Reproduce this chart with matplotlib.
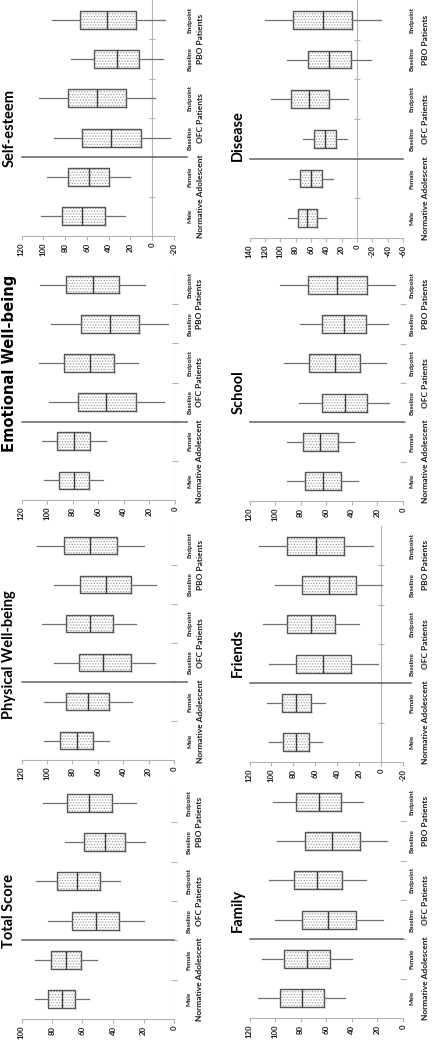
import numpy as np
import matplotlib
matplotlib.use("Agg")
import matplotlib.pyplot as plt

plt.rcParams['font.family'] = ['Lato', 'DejaVu Sans']
plt.rcParams['font.weight'] = 'bold'
plt.rcParams['axes.unicode_minus'] = False
plt.rcParams['hatch.linewidth'] = 0.6

# category labels (bottom to top after rotation)
sub_labels = ["Male", "Female", "Baseline", "Endpoint", "Baseline", "Endpoint"]
group_labels = ["Normative Adolescent", "OFC Patients", "PBO Patients"]

# each row: whisker low, q1, median, q3, whisker high
total_score = [[55.8, 64.6, 73.2, 82.4, 91.2],
               [50.5, 60.9, 71.0, 80.9, 91.0],
               [20.0, 35.8, 51.2, 67.0, 82.4],
               [35.2, 48.8, 63.3, 76.7, 90.8],
               [18.9, 31.9, 45.5, 58.9, 71.4],
               [25.1, 40.4, 55.6, 70.3, 85.7]]
physical = [[51.0, 63.9, 76.4, 89.8, 102.6],
            [33.2, 50.8, 67.5, 85.1, 102.6],
            [14.9, 34.0, 56.0, 74.6, 94.8],
            [29.8, 47.9, 66.2, 85.1, 103.7],
            [14.4, 33.8, 53.4, 74.3, 94.8],
            [23.6, 44.8, 66.0, 86.9, 107.9]]
emotional = [[56.2, 67.4, 79.3, 90.4, 102.3],
             [53.6, 66.6, 79.3, 92.0, 104.1],
             [8.5, 30.8, 54.1, 75.9, 98.2],
             [29.0, 47.7, 66.3, 86.8, 106.2],
             [5.2, 28.2, 50.8, 73.6, 96.6],
             [23.1, 43.5, 64.2, 85.0, 105.4]]
self_esteem = [[24.6, 43.7, 64.3, 82.8, 102.2],
               [20.0, 39.4, 58.2, 77.5, 96.6],
               [-16.3, 10.5, 38.2, 64.0, 90.2],
               [-2.2, 24.0, 50.5, 76.9, 103.7],
               [-9.8, 11.7, 32.6, 53.5, 74.2],
               [-11.7, 14.5, 41.5, 66.5, 92.3]]
family = [[45.5, 62.0, 79.3, 96.3, 113.1],
          [40.1, 57.1, 74.9, 92.9, 110.2],
          [16.0, 36.6, 58.6, 79.1, 100.0],
          [29.1, 47.9, 67.0, 85.6, 104.7],
          [12.6, 33.8, 55.5, 76.4, 98.4],
          [30.9, 48.4, 66.0, 83.8, 101.3]]
friends = [[54.1, 66.1, 78.0, 89.6, 101.8],
           [51.4, 64.2, 77.7, 90.8, 104.3],
           [2.4, 27.2, 52.9, 77.4, 101.8],
           [19.9, 41.6, 63.9, 86.2, 107.6],
           [-1.2, 22.9, 47.1, 72.2, 96.6],
           [7.0, 33.6, 59.6, 85.6, 111.6]]
school = [[35.2, 48.8, 62.7, 76.8, 90.9],
          [38.4, 51.2, 64.5, 77.8, 90.9],
          [11.0, 28.2, 45.7, 63.7, 81.5],
          [13.6, 33.4, 53.3, 73.1, 93.0],
          [11.5, 28.7, 46.0, 63.4, 80.9],
          [6.5, 28.5, 51.4, 74.2, 95.8]]
disease = [[40.0, 52.2, 64.8, 77.4, 90.0],
           [31.7, 45.2, 60.0, 74.8, 88.7],
           [13.5, 27.4, 41.7, 56.1, 70.9],
           [12.2, 37.0, 62.2, 86.5, 112.2],
           [-18.3, 8.3, 36.5, 64.3, 90.9],
           [-31.3, 6.5, 44.8, 83.0, 120.4]]

W, H = 433, 1040
AXIS = '#b3b3b3'

fig = plt.figure(figsize=(W / 100, H / 100), dpi=100)

# title, data, value range, left/right/top/bottom (px), title centre (px), title font,
# separator end (px), sub label x, group label x
lato = ('Lato', 10.5)
panels = [
    ("Self-esteem", self_esteem, (-20, 120), (21.5, 174, 0, 236), (9.5, 128), lato, 187, 190, 200),
    ("Emotional Well-being", emotional, (0, 120), (21.5, 175, 265, 500), (9.5, 363), ('DejaVu Sans', 10.6), 187, 190, 200),
    ("Physical Well-being", physical, (0, 120), (21.5, 174, 526, 760), (9.5, 655), lato, 187, 190, 200),
    ("Total Score", total_score, (0, 100), (21.5, 174, 783, 1019), (9.5, 911), lato, 174, 189, 199),
    ("Disease", disease, (-60, 140), (249.5, 403, 0, 238), (238, 136), lato, 403, 412, 425),
    ("School", school, (0, 120), (249.5, 403, 265, 501), (239, 392), lato, 404, 412, 425),
    ("Friends", friends, (-20, 120), (249.5, 403, 526, 762), (238, 653), lato, 411, 412, 425),
    ("Family", family, (0, 120), (249.5, 403, 782, 1018), (238, 911), lato, 403, 412, 425),
]

pos = np.arange(1, len(sub_labels) + 1)
group_pos = pos.reshape(-1, 2).mean(axis=1)

for title, data, (vmin, vmax), (x0, x1, top, bot), (tx, ty), (tfont, tsize), sep_end, sub_x, grp_x in panels:
    ax = fig.add_axes([x0 / W, 1 - bot / H, (x1 - x0) / W, (bot - top) / H])
    wpx = x1 - x0
    stats = [dict(whislo=r[0], q1=r[1], med=r[2], q3=r[3], whishi=r[4], fliers=[]) for r in data]

    # dotted fill
    ax.bxp(stats, positions=pos, widths=0.45, orientation='horizontal', patch_artist=True,
           showcaps=False, showfliers=False, manage_ticks=False,
           boxprops=dict(facecolor='white', edgecolor='#a0a0a0', hatch='......', linewidth=0),
           whiskerprops=dict(linewidth=0), medianprops=dict(linewidth=0))
    # outlines
    ax.bxp(stats, positions=pos, widths=0.45, orientation='horizontal', patch_artist=False,
           showcaps=False, showfliers=False, manage_ticks=False,
           boxprops=dict(color='#555555', linewidth=1),
           whiskerprops=dict(color='#707070', linewidth=0.9),
           medianprops=dict(color='#3a3a3a', linewidth=1))

    ax.set_xlim(vmax, vmin)
    ax.set_ylim(0.5, len(sub_labels) + 0.5)
    ax.set_facecolor('none')
    for s in ['top', 'left', 'right']:
        ax.spines[s].set_visible(False)
    ax.spines['bottom'].set_color(AXIS)
    ax.spines['bottom'].set_linewidth(0.8)

    ax.set_xticks(np.arange(vmin, vmax + 1, 20))
    ax.tick_params(axis='x', direction='out', length=3, width=0.8, color=AXIS,
                   labelrotation=90, labelsize=5.6, pad=2, labelcolor='#1a1a1a')
    ax.set_yticks([])

    # category axis at zero with boundary ticks
    ax.axvline(0, color=AXIS, lw=0.8, zorder=0.5)
    ax.plot(np.zeros(len(pos) - 1), pos[:-1] + 0.5, ls='none', marker='_', ms=4,
            mew=0.8, color=AXIS, clip_on=False)

    # separator between normative and patient groups
    ax.plot([0, (sep_end - x0) / wpx], [2.5, 2.5], transform=ax.get_yaxis_transform(),
            color='#6e6e6e', lw=1.2, clip_on=False)

    for p, lab in zip(pos, sub_labels):
        ax.text((sub_x - x0) / wpx, p, lab, transform=ax.get_yaxis_transform(),
                rotation=90, ha='center', va='center', fontsize=4.6, color='#1a1a1a')
    for p, lab in zip(group_pos, group_labels):
        ax.text((grp_x - x0) / wpx, p, lab, transform=ax.get_yaxis_transform(),
                rotation=90, ha='center', va='center', fontsize=6, color='#1a1a1a')

    fig.text(tx / W, 1 - ty / H, title, rotation=90, ha='center', va='center',
             fontsize=tsize, family=[tfont, 'DejaVu Sans'], fontweight='bold', color='black')

fig.savefig('out.png', dpi=100)
